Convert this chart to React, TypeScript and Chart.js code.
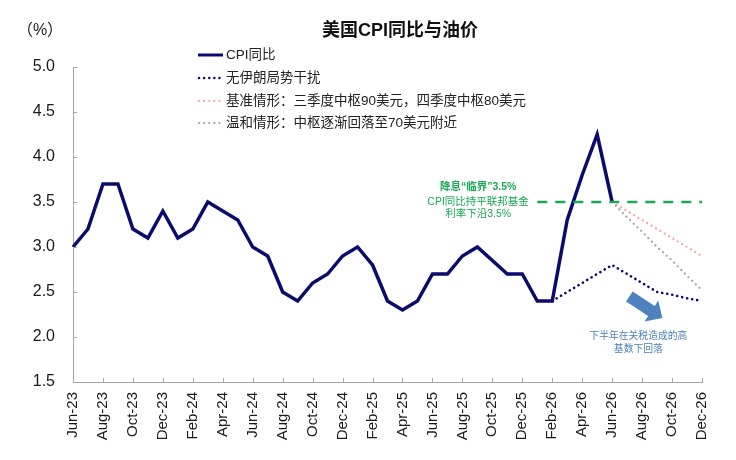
import { useEffect, useRef } from 'react';
import { Chart, registerables } from 'chart.js';

Chart.register(...registerables);

const FONT = '"Liberation Sans", "Noto Sans CJK SC", sans-serif';

const months = [
  'Jun-23', 'Jul-23', 'Aug-23', 'Sep-23', 'Oct-23', 'Nov-23', 'Dec-23',
  'Jan-24', 'Feb-24', 'Mar-24', 'Apr-24', 'May-24', 'Jun-24', 'Jul-24', 'Aug-24', 'Sep-24', 'Oct-24', 'Nov-24', 'Dec-24',
  'Jan-25', 'Feb-25', 'Mar-25', 'Apr-25', 'May-25', 'Jun-25', 'Jul-25', 'Aug-25', 'Sep-25', 'Oct-25', 'Nov-25', 'Dec-25',
  'Jan-26', 'Feb-26', 'Mar-26', 'Apr-26', 'May-26', 'Jun-26', 'Jul-26', 'Aug-26', 'Sep-26', 'Oct-26', 'Nov-26', 'Dec-26',
];

// CPI同比 (Oct-25 not published -> gap)
const cpi = [
  3.0, 3.2, 3.7, 3.7, 3.2, 3.1, 3.4,
  3.1, 3.2, 3.5, 3.4, 3.3, 3.0, 2.9, 2.5, 2.4, 2.6, 2.7, 2.9,
  3.0, 2.8, 2.4, 2.3, 2.4, 2.7, 2.7, 2.9, 3.0, null, 2.7, 2.7,
  2.4, 2.4, 3.3, 3.8, 4.25, 3.5, null, null, null, null, null, null,
];

const N31 = new Array(31).fill(null);
const N36 = new Array(36).fill(null);

// 无伊朗局势干扰 (from Feb-26)
const noIran = [...N31, null, 2.4, 2.5, 2.6, 2.7, 2.8, 2.7, 2.6, 2.5, 2.47, 2.43, 2.4];
// 基准情形
const baseCase = [...N36, 3.5, 3.4, 3.3, 3.2, 3.1, 3.0, 2.9];
// 温和情形
const mildCase = [...N36, 3.5, 3.33, 3.17, 3.0, 2.85, 2.68, 2.52];
// 降息“临界” 3.5%
const threshold = [...N31, 3.5, 3.5, 3.5, 3.5, 3.5, 3.5, 3.5, 3.5, 3.5, 3.5, 3.5, 3.5];

const yTicks = [1.5, 2.0, 2.5, 3.0, 3.5, 4.0, 4.5, 5.0];

const NAVY = '#0B0B6E';
const PINK = '#F2A69C';
const GREY = '#ABA3A3';
const GREEN = '#1AAA55';
const BLUE = '#4F81BD';
const DOTS = [0.1, 5];

const legendItems = [
  { label: 'CPI同比', color: NAVY, dash: [] as number[], width: 3 },
  { label: '无伊朗局势干扰', color: NAVY, dash: DOTS, width: 2.4 },
  { label: '基准情形：三季度中枢90美元，四季度中枢80美元', color: PINK, dash: DOTS, width: 2.2 },
  { label: '温和情形：中枢逐渐回落至70美元附近', color: GREY, dash: DOTS, width: 2.2 },
];

const greenNote = ['降息“临界”3.5%', 'CPI同比持平联邦基金', '利率下沿3.5%'];
const blueNote = ['下半年在关税造成的高', '基数下回落'];
// anchors in data units (category index, value)
const greenAnchor = { x: 27.05, y: 3.67 };
const blueAnchor = { x: 37.75, y: 2.01 };
const arrowTail = { x: 37.15, y: 2.45 };
const arrowTip = { x: 39.35, y: 2.21 };

const overlay = {
  id: 'overlay',
  afterDraw(chart: any) {
    const { ctx, chartArea, scales } = chart;
    const xs = scales.x;
    const ys = scales.y;
    ctx.save();

    // inward tick marks
    ctx.strokeStyle = '#A6A6A6';
    ctx.lineWidth = 1;
    ctx.beginPath();
    yTicks.forEach((v) => {
      const y = Math.round(ys.getPixelForValue(v)) + 0.5;
      ctx.moveTo(chartArea.left, y);
      ctx.lineTo(chartArea.left + 4, y);
    });
    months.forEach((_, i) => {
      if (i % 2 !== 0) return;
      const x = Math.round(xs.getPixelForValue(i)) + 0.5;
      ctx.moveTo(x, chartArea.bottom);
      ctx.lineTo(x, chartArea.bottom - 4);
    });
    ctx.stroke();

    // title and unit
    ctx.fillStyle = '#111';
    ctx.textBaseline = 'middle';
    ctx.textAlign = 'center';
    ctx.font = `bold 18px ${FONT}`;
    ctx.fillText('美国CPI同比与油价', 400, 31);
    ctx.font = `16px ${FONT}`;
    ctx.fillStyle = '#222';
    ctx.fillText('（%）', 40, 31);

    // legend
    const rows = [55, 78, 101, 123];
    legendItems.forEach((it, i) => {
      const y = rows[i];
      ctx.strokeStyle = it.color;
      ctx.lineWidth = it.width;
      ctx.setLineDash(it.dash);
      ctx.lineCap = it.dash.length ? 'round' : 'butt';
      ctx.beginPath();
      ctx.moveTo(it.dash.length ? 199 : 198, y);
      ctx.lineTo(it.dash.length ? 220 : 223, y);
      ctx.stroke();
      ctx.setLineDash([]);
      ctx.fillStyle = '#222';
      ctx.textAlign = 'left';
      ctx.font = `13.5px ${FONT}`;
      ctx.fillText(it.label, 226, y);
    });

    // green note
    const gx = xs.getPixelForValue(greenAnchor.x);
    const gy = ys.getPixelForValue(greenAnchor.y);
    ctx.fillStyle = GREEN;
    ctx.textAlign = 'center';
    const gOff = [0, 15, 27];
    greenNote.forEach((t, i) => {
      ctx.font = `${i === 0 ? 'bold ' : ''}10.5px ${FONT}`;
      ctx.fillText(t, gx, gy + gOff[i]);
    });

    // blue note
    const bx = xs.getPixelForValue(blueAnchor.x);
    const by = ys.getPixelForValue(blueAnchor.y);
    ctx.fillStyle = BLUE;
    ctx.font = `9.8px ${FONT}`;
    blueNote.forEach((t, i) => ctx.fillText(t, bx, by + i * 13));

    // block arrow
    const tx = xs.getPixelForValue(arrowTail.x);
    const ty = ys.getPixelForValue(arrowTail.y);
    const hx = xs.getPixelForValue(arrowTip.x);
    const hy = ys.getPixelForValue(arrowTip.y);
    const L = Math.hypot(hx - tx, hy - ty);
    const a = Math.atan2(hy - ty, hx - tx);
    const bw = 6, hw = 12.5, hl = 13;
    ctx.translate(tx, ty);
    ctx.rotate(a);
    ctx.fillStyle = BLUE;
    ctx.beginPath();
    ctx.moveTo(0, -bw);
    ctx.lineTo(L - hl, -bw);
    ctx.lineTo(L - hl, -hw);
    ctx.lineTo(L, 0);
    ctx.lineTo(L - hl, hw);
    ctx.lineTo(L - hl, bw);
    ctx.lineTo(0, bw);
    ctx.closePath();
    ctx.fill();

    ctx.restore();
  },
};

export default function App() {
  const canvasRef = useRef<HTMLCanvasElement>(null);
  const chartRef = useRef<Chart | null>(null);

  useEffect(() => {
    if (!canvasRef.current) return;
    chartRef.current?.destroy();
    chartRef.current = new Chart(canvasRef.current, {
      type: 'line',
      data: {
        labels: months,
        datasets: [
          { label: '降息临界', data: threshold, borderColor: GREEN, borderWidth: 2.5, borderDash: [10, 8], pointRadius: 0, fill: false },
          { label: '温和情形', data: mildCase, borderColor: GREY, borderWidth: 2.2, borderDash: DOTS, borderCapStyle: 'round', pointRadius: 0, fill: false },
          { label: '基准情形', data: baseCase, borderColor: PINK, borderWidth: 2.2, borderDash: DOTS, borderCapStyle: 'round', pointRadius: 0, fill: false },
          { label: '无伊朗局势干扰', data: noIran, borderColor: NAVY, borderWidth: 2.6, borderDash: DOTS, borderCapStyle: 'round', pointRadius: 0, fill: false },
          { label: 'CPI同比', data: cpi, borderColor: NAVY, borderWidth: 3.5, pointRadius: 0, fill: false, spanGaps: true, tension: 0 },
        ] as any,
      },
      options: {
        animation: false,
        responsive: true,
        maintainAspectRatio: false,
        layout: { padding: { left: 0, right: 34, top: 67, bottom: 0 } },
        plugins: { legend: { display: false }, tooltip: { enabled: false }, title: { display: false } },
        scales: {
          x: {
            type: 'category',
            offset: false,
            grid: { drawOnChartArea: false, drawTicks: false },
            border: { color: '#A6A6A6', width: 1 },
            ticks: {
              autoSkip: false,
              maxRotation: 90,
              minRotation: 90,
              padding: 10,
              color: '#1a1a1a',
              font: { family: FONT, size: 15 },
              callback: (_v: any, i: number) => (i % 2 === 0 ? months[i] : ''),
            },
            afterFit: (s: any) => { s.height = 78; },
          },
          y: {
            min: 1.5,
            max: 5.0,
            grid: { drawOnChartArea: false, drawTicks: false },
            border: { color: '#A6A6A6', width: 1 },
            ticks: {
              stepSize: 0.5,
              padding: 18,
              color: '#1a1a1a',
              font: { family: FONT, size: 16 },
              callback: (v: any) => Number(v).toFixed(1),
            },
            afterFit: (s: any) => { s.width = 73; },
          },
        },
      },
      plugins: [overlay],
    });
    return () => { chartRef.current?.destroy(); };
  }, []);

  return (
    <div style={{ position: 'absolute', left: 0, top: 0, width: 736, height: 460, background: '#fff' }}>
      <canvas ref={canvasRef} />
    </div>
  );
}
